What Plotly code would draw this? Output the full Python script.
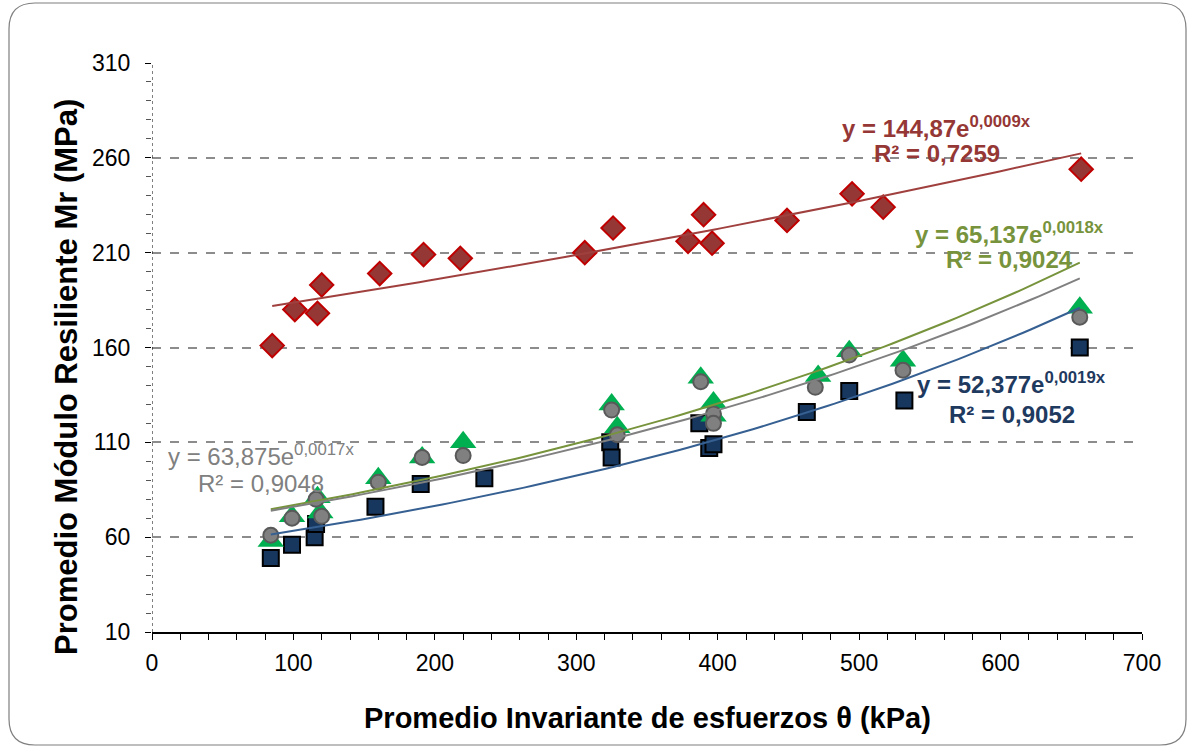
import numpy as np
import plotly.graph_objects as go

# ---- data ----
x_red = [85, 101, 117, 120, 161, 192, 218, 306, 326, 379, 390, 396, 449, 495, 517, 657]
y_red = [161, 180, 178, 193, 199, 209, 207, 210, 223, 216, 230, 215, 227, 241, 234, 254]

x_blue = [84, 99, 115, 116, 158, 190, 235, 324, 325, 387, 394, 397, 463, 493, 532, 656]
y_blue = [49, 56, 60, 67, 76, 88, 91, 110, 102, 120, 107, 109, 126, 137, 132, 160]

x_green = [84, 99, 117, 119, 160, 191, 220, 325, 329, 388, 397, 397, 471, 493, 531, 656]
y_green = [58, 71, 81, 73, 91, 102, 110, 130, 118, 144, 131, 124, 145, 158, 153, 181]

x_gray = [84, 99, 116, 120, 160, 191, 220, 325, 329, 388, 397, 397, 469, 493, 531, 656]
y_gray = [61, 70, 80, 71, 89, 102, 103, 127, 114, 142, 125, 120, 139, 156, 148, 176]

eq_red = ["y = 144,87e<sup>0,0009x</sup>", "R² = 0,7259"]
eq_green = ["y = 65,137e<sup>0,0018x</sup>", "R² = 0,9024"]
eq_blue = ["y = 52,377e<sup>0,0019x</sup>", "R² = 0,9052"]
eq_gray = ["y = 63,875e<sup>0,0017x</sup>", "R² = 0,9048"]

x_title = "Promedio Invariante de esfuerzos θ (kPa)"
y_title = "Promedio Módulo Resiliente Mr (MPa)"

W, H = 1191, 750
L, R, T, B = 152, 49, 63, 118
PW, PH = W - L - R, H - T - B

FONT = "Liberation Sans, Arial, sans-serif"

fig = go.Figure()


def expfit(xs, ys):
    xs = np.asarray(xs, float)
    ys = np.asarray(ys, float)
    b, lna = np.polyfit(xs, np.log(ys), 1)
    xx = np.linspace(xs.min(), xs.max(), 100)
    return xx, np.exp(lna) * np.exp(b * xx)


fig.add_trace(go.Scatter(x=x_red, y=y_red, mode="markers",
                         marker=dict(symbol="diamond", size=18, color="#953735",
                                     line=dict(color="#C00000", width=2)),
                         showlegend=False))
fig.add_trace(go.Scatter(x=x_blue, y=y_blue, mode="markers",
                         marker=dict(symbol="square", size=16, color="#17375E",
                                     line=dict(color="#000000", width=2)),
                         showlegend=False))
fig.add_trace(go.Scatter(x=x_green, y=y_green, mode="markers",
                         marker=dict(symbol="triangle-up", size=23, color="#00B050",
                                     line=dict(color="#00B050", width=0)),
                         showlegend=False))
fig.add_trace(go.Scatter(x=x_gray, y=y_gray, mode="markers",
                         marker=dict(symbol="circle", size=15, color="#808080",
                                     line=dict(color="#595959", width=2)),
                         showlegend=False))

for xs, ys, col in [(x_green, y_green, "#77933C"), (x_gray, y_gray, "#808080"),
                    (x_blue, y_blue, "#366092"), (x_red, y_red, "#A0403E")]:
    xx, yy = expfit(xs, ys)
    fig.add_trace(go.Scatter(x=xx, y=yy, mode="lines", line=dict(color=col, width=2),
                             showlegend=False, hoverinfo="skip"))

ann = []


def add_eq(lines, xc, y1, y2, col, bold=True):
    for txt, yy in zip(lines, [y1, y2]):
        t = f"<b>{txt}</b>" if bold else txt
        ann.append(dict(x=xc, y=yy, xref="x", yref="y", text=t, showarrow=False,
                        xanchor="center", yanchor="middle",
                        font=dict(family=FONT, size=24, color=col)))


add_eq(eq_red, 555, 276.5, 262.5, "#953735")
add_eq(eq_green, 606, 220.5, 206.5, "#77933C")
add_eq(eq_blue, 608, 141.5, 124.5, "#1F3A5F")
add_eq(eq_gray, 77, 103.5, 88.5, "#808080", bold=False)


def px(xp):
    return (xp - L) / PW


def py(yp):
    return (T + PH - yp) / PH


# axis titles
ann.append(dict(x=px(647), y=py(718), xref="paper", yref="paper",
                text=f"<b>{x_title}</b>", showarrow=False,
                xanchor="center", yanchor="middle",
                font=dict(family=FONT, size=29, color="black")))
ann.append(dict(x=px(66), y=py(377), xref="paper", yref="paper",
                text=f"<b>{y_title}</b>", showarrow=False, textangle=-90,
                xanchor="center", yanchor="middle",
                font=dict(family=FONT, size=31, color="black")))

# rounded outer frame
x0, x1, y0, y1, r = 9, 1186, 3, 745, 26
path = (f"M {px(x0 + r)} {py(y0)} L {px(x1 - r)} {py(y0)} Q {px(x1)} {py(y0)} {px(x1)} {py(y0 + r)} "
        f"L {px(x1)} {py(y1 - r)} Q {px(x1)} {py(y1)} {px(x1 - r)} {py(y1)} "
        f"L {px(x0 + r)} {py(y1)} Q {px(x0)} {py(y1)} {px(x0)} {py(y1 - r)} "
        f"L {px(x0)} {py(y0 + r)} Q {px(x0)} {py(y0)} {px(x0 + r)} {py(y0)} Z")

shapes = [
    dict(type="path", path=path, xref="paper", yref="paper",
         line=dict(color="#7F7F7F", width=1.2), layer="below"),
    dict(type="line", xref="x", yref="paper", x0=0, x1=0, y0=0, y1=1,
         line=dict(color="black", width=1, dash="dot"), layer="above"),
]

fig.update_layout(
    width=W, height=H, autosize=False,
    margin=dict(l=L, r=R, t=T, b=B, pad=0),
    paper_bgcolor="white", plot_bgcolor="white",
    font=dict(family=FONT, size=23, color="black"),
    annotations=ann, shapes=shapes, showlegend=False,
    xaxis=dict(range=[0, 700], dtick=100, tick0=0, showgrid=False, zeroline=False,
               showline=True, linecolor="black", linewidth=1.5,
               ticks="outside", ticklen=6, tickcolor="black", tickwidth=1,
               minor=dict(dtick=20, ticks="outside", ticklen=6, tickcolor="black", tickwidth=1),
               tickfont=dict(family=FONT, size=23, color="black"), ticklabelstandoff=4),
    yaxis=dict(range=[10, 310], dtick=50, tick0=10, showgrid=True, gridcolor="#8C8C8C",
               gridwidth=1.5, griddash="dash", zeroline=False, showline=False,
               ticks="outside", ticklen=6, tickcolor="black", tickwidth=1,
               minor=dict(dtick=10, ticks="outside", ticklen=5, tickcolor="#555555", tickwidth=1,
                          showgrid=False),
               tickfont=dict(family=FONT, size=23, color="black"), ticklabelstandoff=10),
)

fig.write_html("out.html")
